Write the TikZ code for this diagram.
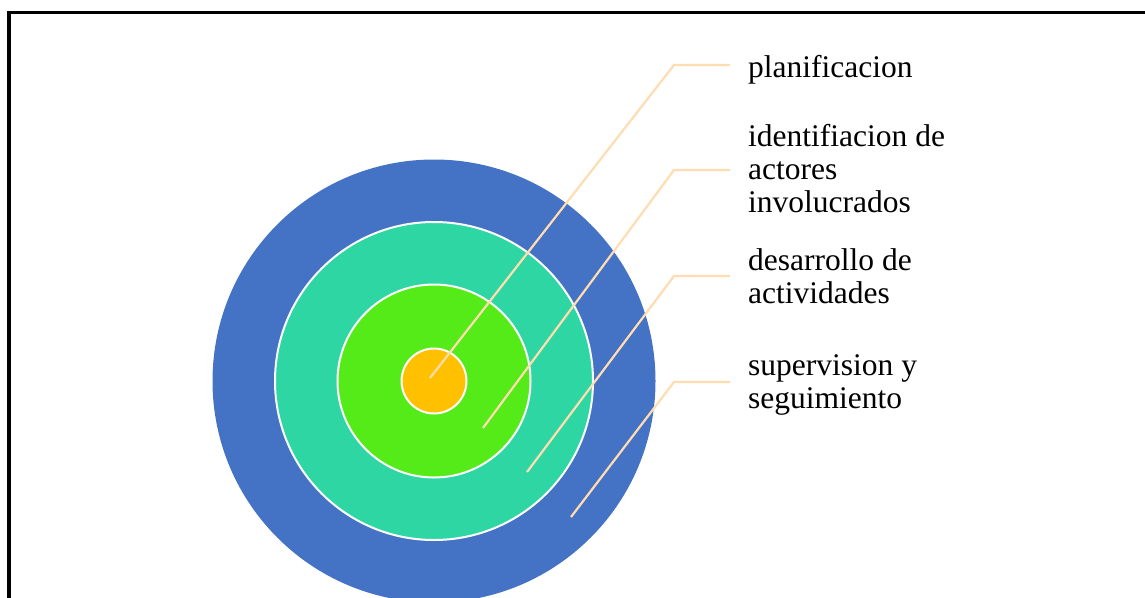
\documentclass[tikz,border=0pt]{standalone}
\usepackage{fontspec}
\setmainfont{Liberation Serif}
\definecolor{cblue}{HTML}{4472C4}
\definecolor{cteal}{HTML}{2ED6A3}
\definecolor{cgreen}{HTML}{55EB19}
\definecolor{cgold}{HTML}{FFC000}
\definecolor{leadcol}{HTML}{FFDDB0}
\begin{document}
\begin{tikzpicture}[x=1pt,y=-1pt,
  disc/.style={circle, draw=white, line width=2pt, inner sep=0pt},
  lead/.style={draw=leadcol, line width=2.2pt},
  lbl/.style={anchor=north west, inner sep=0pt, align=left, font=\fontsize{31.5}{33}\selectfont}]
\clip (0,0) rectangle (1145,597);
\fill[white] (0,0) rectangle (1145,597);
\draw[line width=3.5pt] (9,12.5) rectangle (1170,640);
% rings
\node[disc, fill=cblue, draw=none, minimum size=443pt] (c1) at (434,381) {};
\node[disc, fill=cteal, minimum size=318pt] (c2) at (434,381) {};
\node[disc, fill=cgreen, minimum size=193pt] (c3) at (434,381) {};
\node[disc, fill=cgold, minimum size=65pt] (c4) at (434,381) {};
% leader points
\coordinate (p1) at (430,378);
\coordinate (p2) at (483,428);
\coordinate (p3) at (527,472);
\coordinate (p4) at (571,517);
\coordinate (e1) at (674,65);
\coordinate (e2) at (674,170);
\coordinate (e3) at (674,276);
\coordinate (e4) at (674,382);
\coordinate (t1) at (730,65);
\coordinate (t2) at (730,170);
\coordinate (t3) at (730,276);
\coordinate (t4) at (730,382);
\draw[lead] (p1) -- (e1) -- (t1);
\draw[lead] (p2) -- (e2) -- (t2);
\draw[lead] (p3) -- (e3) -- (t3);
\draw[lead] (p4) -- (e4) -- (t4);
% labels
\node[lbl] (l1) at (748,55) {planificacion};
\node[lbl] (l2) at (748,124) {identifiacion de\\actores\\involucrados};
\node[lbl] (l3) at (748,248) {desarrollo de\\actividades};
\node[lbl] (l4) at (748,354) {supervision y\\seguimiento};
\end{tikzpicture}
\end{document}
